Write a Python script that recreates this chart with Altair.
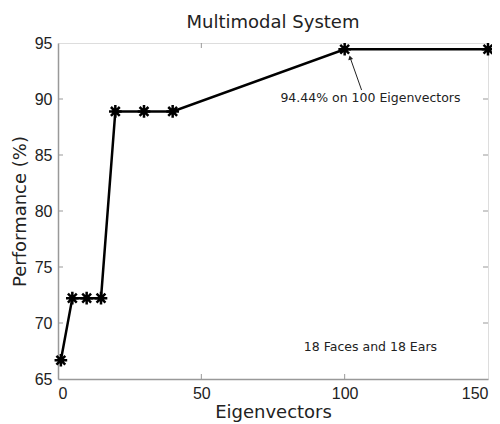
import altair as alt
import pandas as pd

eig = [1, 5, 10, 15, 20, 30, 40, 100, 150]
perf = [66.67, 72.22, 72.22, 72.22, 88.89, 88.89, 88.89, 94.44, 94.44]
x_ticks = [0, 50, 100, 150]
y_ticks = [65, 70, 75, 80, 85, 90, 95]
notes = ["94.44% on 100 Eigenvectors", "18 Faces and 18 Ears"]
note_x = [109, 109]
note_y = [90.1, 67.9]
arrow_from = (105.9, 90.8)
arrow_to = (101.9, 93.7)

W, H = 430, 336
df = pd.DataFrame({"e": eig, "p": perf})
xs = alt.Scale(domain=[0, 150], nice=False)
ys = alt.Scale(domain=[65, 95], nice=False)

FONT = "Liberation Sans"
TFONT = "DejaVu Sans"

xax = alt.Axis(values=x_ticks, title="Eigenvectors", grid=False, tickSize=0,
               labelPadding=6, titlePadding=2, labelFontSize=16, titleFontSize=18,
               labelColor="#222", titleColor="#222", titleFontWeight="normal",
               domainColor="#999", domainWidth=1.5, labelFont=FONT, titleFont=TFONT)
yax = alt.Axis(values=y_ticks, title="Performance (%)", grid=False, tickSize=0,
               labelPadding=6, titlePadding=5, labelFontSize=16, titleFontSize=18,
               labelColor="#222", titleColor="#222", titleFontWeight="normal",
               domainColor="#999", domainWidth=1.5, labelFont=FONT, titleFont=TFONT)

base = alt.Chart(df)
line = base.mark_line(color="black", strokeWidth=2.5).encode(
    x=alt.X("e:Q", scale=xs, axis=xax),
    y=alt.Y("p:Q", scale=ys, axis=yax),
)
star = "M0,-1L0,1M-1,0L1,0M-0.7,-0.7L0.7,0.7M-0.7,0.7L0.7,-0.7"
pts = base.mark_point(shape=star, size=160, stroke="black", strokeWidth=2.5,
                      filled=False, opacity=1).encode(
    x=alt.X("e:Q", scale=xs), y=alt.Y("p:Q", scale=ys))

ndf = pd.DataFrame({"t": notes, "x": note_x, "y": note_y})
txt = alt.Chart(ndf).mark_text(font=TFONT, fontSize=12.5, color="#222").encode(
    x=alt.X("x:Q", scale=xs), y=alt.Y("y:Q", scale=ys), text="t:N")

adf = pd.DataFrame({"x": [arrow_from[0]], "y": [arrow_from[1]], "x2": [arrow_to[0]], "y2": [arrow_to[1]]})
arr = alt.Chart(adf).mark_rule(color="#222", strokeWidth=1).encode(
    x=alt.X("x:Q", scale=xs), y=alt.Y("y:Q", scale=ys), x2="x2:Q", y2="y2:Q")
head = alt.Chart(adf).mark_point(shape="triangle-up", size=25, filled=True, color="#222",
                                 angle=345, opacity=1).encode(
    x=alt.X("x2:Q", scale=xs), y=alt.Y("y2:Q", scale=ys))

# inward tick marks on all four sides
xtdf = pd.DataFrame({"v": x_ticks[1:-1]})
ytdf = pd.DataFrame({"v": y_ticks[1:-1]})
tb = alt.Chart(xtdf).mark_rule(color="#999", strokeWidth=1).encode(
    x=alt.X("v:Q", scale=xs), y=alt.value(H), y2=alt.value(H - 5))
tt = alt.Chart(xtdf).mark_rule(color="#999", strokeWidth=1).encode(
    x=alt.X("v:Q", scale=xs), y=alt.value(0), y2=alt.value(5))
tl = alt.Chart(ytdf).mark_rule(color="#999", strokeWidth=1).encode(
    y=alt.Y("v:Q", scale=ys), x=alt.value(0), x2=alt.value(5))
tr = alt.Chart(ytdf).mark_rule(color="#999", strokeWidth=1).encode(
    y=alt.Y("v:Q", scale=ys), x=alt.value(W), x2=alt.value(W - 5))

chart = alt.layer(tb, tt, tl, tr, line, pts, txt, arr, head).properties(
    width=W, height=H,
    title=alt.TitleParams("Multimodal System", font=TFONT, fontSize=18, fontWeight="normal",
                          color="#222", offset=3),
    autosize=alt.AutoSizeParams(type="none"),
    padding={"left": 50, "top": 35, "right": 4, "bottom": 50},
).configure_view(stroke="#999", strokeWidth=1.5).configure(background="white")

chart.save("out.html", embed_options={"renderer": "svg", "actions": False})
